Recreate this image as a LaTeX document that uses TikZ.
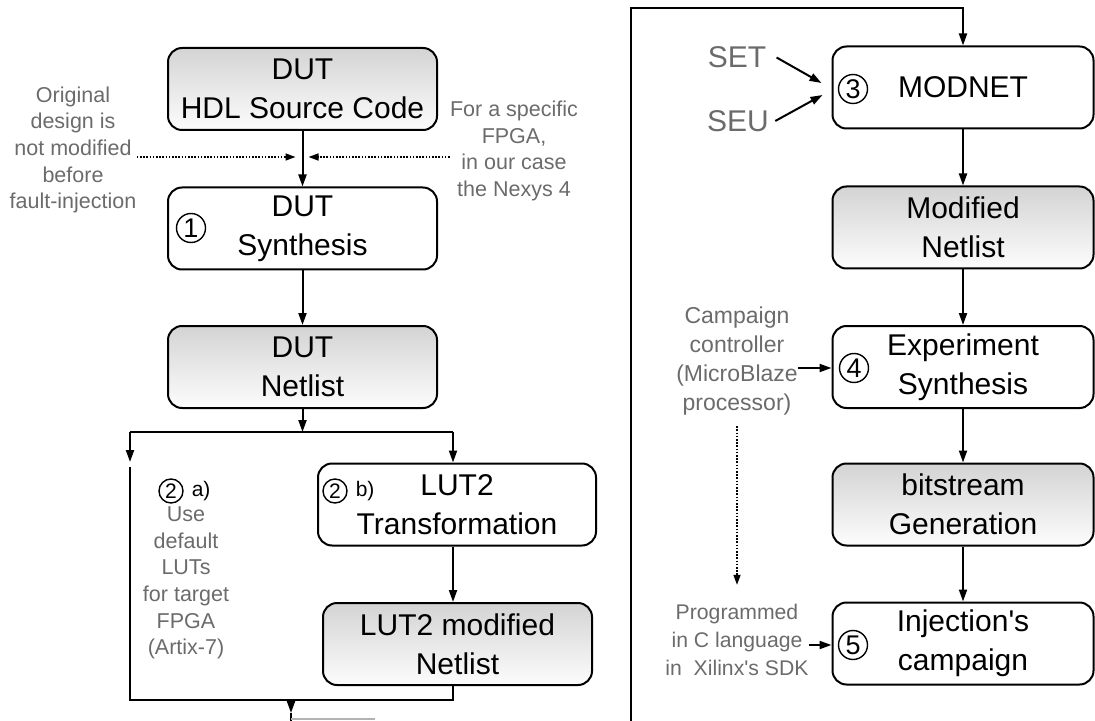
\documentclass[tikz,border=0pt]{standalone}
\usepackage{fontspec}
\setmainfont{Liberation Sans}
\usepackage{xcolor}
\usepackage{tikz}
\usetikzlibrary{arrows.meta,positioning}
\definecolor{note}{gray}{0.42}

\begin{document}
\begin{tikzpicture}[x=0.5pt,y=-0.5pt,
  font=\fontsize{15}{19.5}\selectfont,
  box/.style={draw,line width=1pt,rounded corners=7pt,align=center,
              minimum width=134.5pt,minimum height=41pt,inner sep=2pt},
  gbox/.style={box,top color=black!17,bottom color=black!1},
  num/.style={circle,draw,line width=0.7pt,inner sep=0pt,minimum size=14.5pt,
              font=\fontsize{13.5}{13.5}\selectfont},
  numsm/.style={num,minimum size=12pt,font=\fontsize{10.5}{10.5}\selectfont},
  note/.style={text=note,align=center,inner sep=0pt,
               font=\fontsize{10.75}{13.3}\selectfont},
  ar/.style={-{Triangle[length=6pt,width=4pt]},line width=1pt},
  dar/.style={-{Triangle[length=5pt,width=3.5pt]},line width=0.8pt,
              dash pattern=on 0.8pt off 0.8pt}]
\useasboundingbox (0,0) rectangle (1095,721);

% left flow
\node[gbox] (src) at (302.5,89) {DUT\\HDL Source Code};
\node[box] (syn) at (302.5,228.5) {DUT\\Synthesis};
\node[gbox] (net) at (302.5,367) {DUT\\Netlist};
\node[box,minimum width=139pt] (lut) at (457,504.5) {LUT2\\Transformation};
\node[gbox] (lmod) at (457.5,644) {LUT2 modified\\Netlist};

\node[num] (n1) at (191,228) {1};
\node[numsm] (n2a) at (171,491) {2};
\node[right=0.5pt of n2a,font=\fontsize{10.5}{10.5}\selectfont] (la) {a)};
\node[numsm] (n2b) at (335,491) {2};
\node[right=0.5pt of n2b,font=\fontsize{10.5}{10.5}\selectfont] (lb) {b)};

\node[note] (orig) at (73,150) {Original\\design is\\not modified\\before\\fault-injection};
\node[note] (fpga) at (514,151) {For a specific\\FPGA,\\in our case\\the Nexys 4};
\node[note] (dflt) at (186,583) {Use\\default\\LUTs\\for target\\FPGA\\(Artix-7)};

% right flow
\node[box,minimum width=130.5pt] (mod) at (963,87.5) {MODNET};
\node[gbox,minimum width=130.5pt] (mnet) at (963,227.5) {Modified\\Netlist};
\node[box,minimum width=130.5pt] (exp) at (963,367) {Experiment\\Synthesis};
\node[gbox,minimum width=130.5pt] (bit) at (963,504.5) {bitstream\\Generation};
\node[box,minimum width=130.5pt] (inj) at (963,643.5) {Injection\textquotesingle s\\campaign};

\node[num] (n3) at (853,89) {3};
\node[num] (n4) at (854,368) {4};
\node[num] (n5) at (853,645) {5};

\node[note,font=\fontsize{15}{18}\selectfont] (set) at (737,57.5) {SET};
\node[note,font=\fontsize{15}{18}\selectfont] (seu) at (738,121) {SEU};
\node[note,font=\fontsize{11.5}{14.5}\selectfont] (camp) at (737,361.5)
  {Campaign\\controller\\(MicroBlaze\\processor)};
\node[note,font=\fontsize{10.6}{14}\selectfont] (prog) at (737,640)
  {Programmed\\in C language\\in\ \ Xilinx\textquotesingle s SDK};

\coordinate (spl) at (130,432);
\coordinate (spr) at (453,432);
\coordinate (bl) at (130,700);
\coordinate (out) at (291,700);
\coordinate (loop) at (631,721);

\draw[ar] (src) -- (syn);
\draw[ar] (syn) -- (net);
\draw[ar] (net) -- (net |- spl);
\draw[line width=1pt] (spl) -- (spr);
\draw[ar] (spl) -- ++(0,30);
\draw[ar] (spr) -- (spr |- lut.north);
\draw[ar] (lut.south -| spr) -- (spr |- lmod.north);
\draw[line width=1pt] ([yshift=-17.5pt]spl) -- (bl) -| ([xshift=-2.5pt]lmod.south);
\draw[ar] (out) -- ++(0,13);
\draw[line width=1pt] ([yshift=-6.5pt]out) -- ++(0,8);
\draw[black!30,line width=1pt] ([yshift=-9.5pt]out) -- ++(84,0);

\draw[dar] ([yshift=-3.5pt]orig.east) -- ([xshift=-3.5pt,yshift=-3.5pt]orig.east -| src.south);
\draw[dar] ([yshift=-3pt]fpga.west) -- ([xshift=3pt,yshift=-3pt]fpga.west -| src.south);

\draw[ar] (loop) -- (631,8) -| (mod.north);
\draw[ar] ([xshift=5pt]set.east) -- ([xshift=-5pt,yshift=2.25pt]mod.west);
\draw[ar] ([xshift=3pt]seu.east) -- ([xshift=-4.5pt,yshift=-3.75pt]mod.west);
\draw[ar] (mod) -- (mnet);
\draw[ar] (mnet) -- (exp);
\draw[ar] (exp) -- (bit);
\draw[ar] (bit) -- (inj);
\draw[ar] ([yshift=-3.25pt]camp.east) -- ([yshift=-3.25pt]camp.east -| exp.west);
\draw[dar] ([yshift=-5pt]camp.south) -- ([yshift=9.5pt]prog.north);
\draw[ar] ([yshift=-2.5pt]prog.east) -- ([yshift=-2.5pt]prog.east -| inj.west);
\end{tikzpicture}
\end{document}
